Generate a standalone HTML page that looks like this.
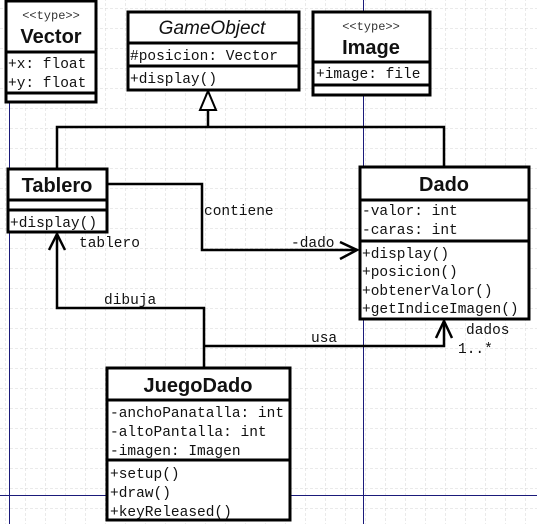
<!DOCTYPE html>
<html><head><style>
html,body{margin:0;padding:0;background:#fff;}
svg{display:block}
.m{font-family:"Liberation Mono",monospace;font-size:14.5px;fill:#111}
.b{font-family:"Liberation Sans",sans-serif;font-weight:bold;font-size:20px;fill:#111}
.s{font-family:"Liberation Mono",monospace;font-size:12px;fill:#333}
.i{font-family:"Liberation Sans",sans-serif;font-style:italic;font-size:19px;fill:#111}
</style></head><body>
<svg width="537" height="524" viewBox="0 0 537 524" xmlns="http://www.w3.org/2000/svg">
<defs>
<pattern id="g" width="20" height="20" patternUnits="userSpaceOnUse" x="5" y="8">
<path d="M0 0V20M0 0H20" stroke="#d4d4d4" stroke-width="1" stroke-dasharray="3,2" fill="none"/>
</pattern>
</defs>
<rect width="537" height="524" fill="#fff"/>
<rect width="537" height="524" fill="url(#g)"/>
<g stroke="#1a1a7a" stroke-width="1">
<line x1="9.5" y1="102" x2="9.5" y2="524"/>
<line x1="363.5" y1="0" x2="363.5" y2="167"/>
<line x1="363.5" y1="319" x2="363.5" y2="524"/>
<line x1="0" y1="495.5" x2="537" y2="495.5"/>
</g>
<g fill="#fff" stroke="#000" stroke-width="3">
<rect x="6" y="1" width="90" height="101"/>
<rect x="128" y="12" width="171" height="78"/>
<rect x="313" y="12" width="117" height="83"/>
<rect x="8" y="169" width="99" height="63"/>
<rect x="360" y="167" width="169" height="152"/>
<rect x="107" y="368" width="183" height="152"/>
</g>
<g stroke="#000" stroke-width="3">
<line x1="6" y1="52" x2="96" y2="52"/><line x1="6" y1="93" x2="96" y2="93"/>
<line x1="128" y1="43" x2="299" y2="43"/><line x1="128" y1="66" x2="299" y2="66"/>
<line x1="313" y1="62" x2="430" y2="62"/><line x1="313" y1="85" x2="430" y2="85"/>
<line x1="8" y1="200" x2="107" y2="200"/><line x1="8" y1="210" x2="107" y2="210"/>
<line x1="360" y1="200" x2="529" y2="200"/><line x1="360" y1="241" x2="529" y2="241"/>
<line x1="107" y1="400" x2="290" y2="400"/><line x1="107" y1="460" x2="290" y2="460"/>
</g>
<g stroke="#000" stroke-width="2.5" fill="none">
<polyline points="57,169 57,127 444,127 444,167"/>
<line x1="208" y1="127" x2="208" y2="110"/>
<polyline points="107,184 202,184 202,250 357,250"/>
<polyline points="340,242 357,250 340,259"/>
<polyline points="204,368 204,308 57,308 57,234"/>
<polyline points="49,250 57,234 65,250"/>
<polyline points="204,346 444,346 444,321"/>
<polyline points="436,338 444,321 452,338"/>
</g>
<polygon points="208,91 200,110 216,110" fill="#fff" stroke="#000" stroke-width="2"/>
<text x="51" y="19" class="s" text-anchor="middle">&lt;&lt;type&gt;&gt;</text>
<text x="51" y="43" class="b" text-anchor="middle">Vector</text>
<text x="8" y="68" class="m">+x: float</text>
<text x="8" y="87" class="m">+y: float</text>
<text x="212" y="34" class="i" text-anchor="middle">GameObject</text>
<text x="130" y="60" class="m">#posicion: Vector</text>
<text x="130" y="83" class="m">+display()</text>
<text x="371" y="30" class="s" text-anchor="middle">&lt;&lt;type&gt;&gt;</text>
<text x="371" y="54" class="b" text-anchor="middle">Image</text>
<text x="316" y="78" class="m">+image: file</text>
<text x="57" y="192" class="b" text-anchor="middle">Tablero</text>
<text x="10" y="227" class="m">+display()</text>
<text x="444" y="191" class="b" text-anchor="middle">Dado</text>
<text x="362" y="215" class="m">-valor: int</text>
<text x="362" y="234" class="m">-caras: int</text>
<text x="362" y="258" class="m">+display()</text>
<text x="362" y="276" class="m">+posicion()</text>
<text x="362" y="295" class="m">+obtenerValor()</text>
<text x="362" y="313" class="m">+getIndiceImagen()</text>
<text x="198" y="392" class="b" text-anchor="middle">JuegoDado</text>
<text x="110" y="417" class="m">-anchoPanatalla: int</text>
<text x="110" y="436" class="m">-altoPantalla: int</text>
<text x="110" y="455" class="m">-imagen: Imagen</text>
<text x="110" y="478" class="m">+setup()</text>
<text x="110" y="497" class="m">+draw()</text>
<text x="110" y="516" class="m">+keyReleased()</text>
<text x="204" y="215" class="m">contiene</text>
<text x="291" y="247" class="m">-dado</text>
<text x="79" y="247" class="m">tablero</text>
<text x="104" y="304" class="m">dibuja</text>
<text x="311" y="342" class="m">usa</text>
<text x="466" y="334" class="m">dados</text>
<text x="458" y="353" class="m">1..*</text>
</svg>
</body></html>
